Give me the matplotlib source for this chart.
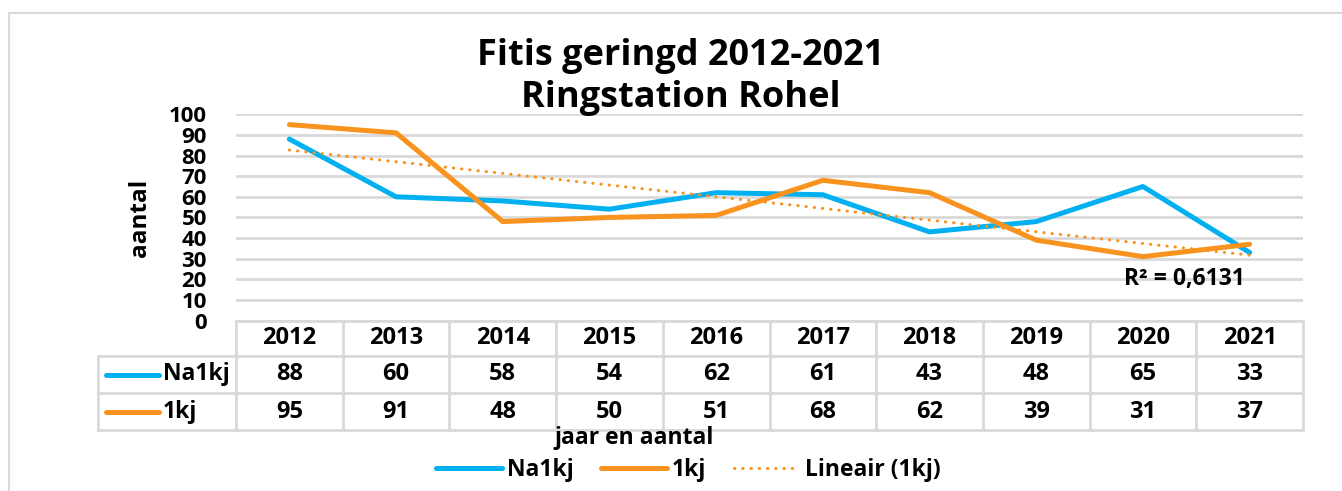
import matplotlib.pyplot as plt
import matplotlib.transforms as mtransforms
from matplotlib.lines import Line2D
import numpy as np

# gegevens
jaren = ['2012', '2013', '2014', '2015', '2016', '2017', '2018', '2019', '2020', '2021']
na1kj = [88, 60, 58, 54, 62, 61, 43, 48, 65, 33]
eenkj = [95, 91, 48, 50, 51, 68, 62, 39, 31, 37]
yticks = [0, 10, 20, 30, 40, 50, 60, 70, 80, 90, 100]

blauw = '#00B0F0'
oranje = '#F7931E'
grijs = '#D9D9D9'

plt.rcParams['font.family'] = ['Open Sans', 'DejaVu Sans']
plt.rcParams['font.weight'] = 'bold'

W, H = 1342, 491
fig = plt.figure(figsize=(W / 100, H / 100), dpi=100)

# plotgebied in pixels
x0, x1 = 236, 1303
y_top, y_nul = 114.3, 320.6
ax = fig.add_axes([x0 / W, 1 - y_nul / H, (x1 - x0) / W, (y_nul - y_top) / H])

x = np.arange(1, len(jaren) + 1)

# lineaire trendlijn voor 1kj
coef = np.polyfit(x, eenkj, 1)
trend = np.polyval(coef, x)
r2 = 1 - np.sum((np.array(eenkj) - trend) ** 2) / np.sum((np.array(eenkj) - np.mean(eenkj)) ** 2)

ax.plot(x, na1kj, color=blauw, lw=3.6, solid_capstyle='round', solid_joinstyle='round', zorder=3)
ax.plot(x, eenkj, color=oranje, lw=3.6, solid_capstyle='round', solid_joinstyle='round', zorder=3)
ax.plot(x, trend, color=oranje, lw=2.2, linestyle=(0, (0.1, 2.6)), dash_capstyle='round', zorder=4)

ax.set_xlim(0.5, len(jaren) + 0.5)
ax.set_ylim(0, 100)
ax.set_yticks(yticks)
ax.set_yticklabels([str(v) for v in yticks], fontsize=16, fontweight='bold')
ax.tick_params(axis='y', length=0, pad=21)
ax.set_xticks([])
for s in ax.spines.values():
    s.set_visible(False)
ax.grid(axis='y', color=grijs, lw=2)
ax.set_axisbelow(True)

ax.text(9.39, 20.0, 'R² = ' + f'{r2:.4f}'.replace('.', ','), fontsize=16.5,
        fontweight='bold', ha='center', va='center')

ax.set_ylabel('aantal', fontsize=17.5, fontweight='bold', labelpad=6)
ax.yaxis.set_label_coords(-84 / (x1 - x0), 0.5)

# gegevenstabel onder de grafiek (x in data, y in pixels omgerekend)
def yfrac(ypx):
    return (y_nul - ypx) / (y_nul - y_top)

trans = mtransforms.blended_transform_factory(ax.transData, ax.transAxes)
px = (x1 - x0) / len(jaren)
links = 0.5 - (x0 - 98) / px

rij_lijnen = [321, 356, 393, 430]
for i, ypx in enumerate(rij_lijnen):
    xa = 0.5 if i == 0 else links
    ax.add_line(Line2D([xa, len(jaren) + 0.5], [yfrac(ypx)] * 2, transform=trans,
                       color=grijs, lw=2, clip_on=False))
for k in range(len(jaren) + 1):
    ax.add_line(Line2D([0.5 + k] * 2, [yfrac(321), yfrac(430)], transform=trans,
                       color=grijs, lw=2, clip_on=False))
ax.add_line(Line2D([links] * 2, [yfrac(356), yfrac(430)], transform=trans,
                   color=grijs, lw=2, clip_on=False))

for i, j in enumerate(jaren):
    ax.text(x[i], yfrac(338.5), j, transform=trans, ha='center', va='center',
            fontsize=17, fontweight='bold')
    ax.text(x[i], yfrac(374.5), str(na1kj[i]), transform=trans, ha='center', va='center',
            fontsize=17, fontweight='bold')
    ax.text(x[i], yfrac(411.5), str(eenkj[i]), transform=trans, ha='center', va='center',
            fontsize=17, fontweight='bold')

for naam, kleur, ypx in [('Na1kj', blauw, 374.5), ('1kj', oranje, 411.5)]:
    ax.add_line(Line2D([0.5 - (x0 - 106) / px, 0.5 - (x0 - 159) / px], [yfrac(ypx)] * 2,
                       transform=trans, color=kleur, lw=3.6, solid_capstyle='round', clip_on=False))
    ax.text(0.5 - (x0 - 163) / px, yfrac(ypx), naam, transform=trans, ha='left', va='center',
            fontsize=16.5, fontweight='bold')

fig.text(634 / W, 1 - 438 / H, 'jaar en aantal', ha='center', va='center',
         fontsize=16.5, fontweight='bold')

# titel
fig.text(681 / W, 1 - 56 / H, 'Fitis geringd 2012-2021', ha='center', va='center',
         fontsize=26, fontweight='bold')
fig.text(681 / W, 1 - 98 / H, 'Ringstation Rohel', ha='center', va='center',
         fontsize=26, fontweight='bold')

# legenda
handles = [Line2D([], [], color=blauw, lw=3.6, solid_capstyle='round'),
           Line2D([], [], color=oranje, lw=3.6, solid_capstyle='round'),
           Line2D([], [], color=oranje, lw=2.2, linestyle=(0, (0.1, 2.6)), dash_capstyle='round')]
fig.legend(handles, ['Na1kj', '1kj', 'Lineair (1kj)'], loc='center',
           bbox_to_anchor=(688 / W, 1 - 470 / H), ncol=3, frameon=False,
           prop={'size': 16.5, 'weight': 'bold'}, handlelength=2.9, handletextpad=0.2,
           columnspacing=1.2, borderpad=0)

# kader van de grafiek
fig.add_artist(Line2D([8.5 / W, 1], [1 - 12.5 / H] * 2, transform=fig.transFigure, color=grijs, lw=1.5))
fig.add_artist(Line2D([8.5 / W] * 2, [0, 1 - 12.5 / H], transform=fig.transFigure, color=grijs, lw=1.5))

fig.savefig('out.png', dpi=100, facecolor='white')
